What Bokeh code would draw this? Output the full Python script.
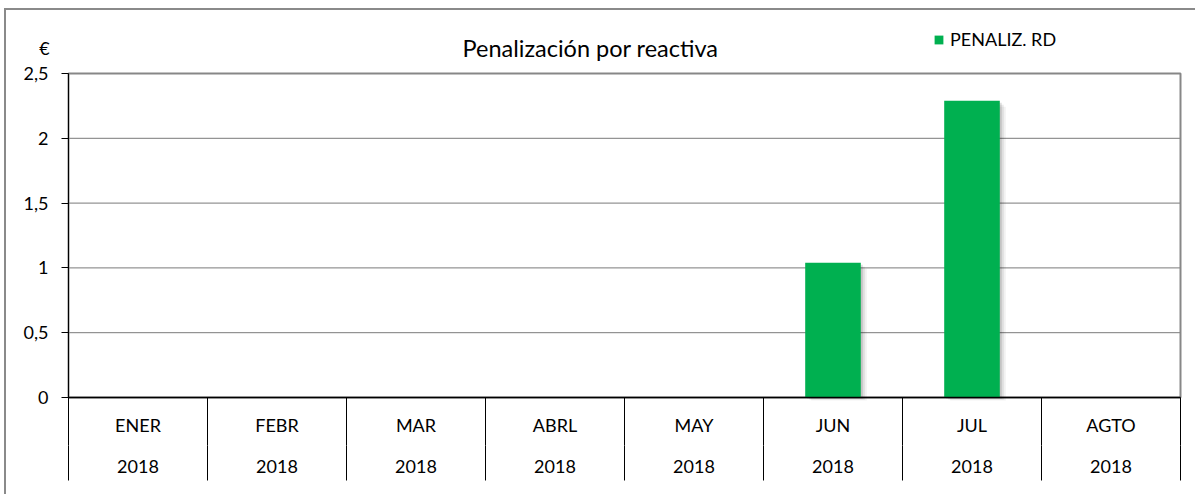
from bokeh.plotting import figure
from bokeh.models import (LinearAxis, FixedTicker, CustomJSTickFormatter, Range1d,
                          Legend, LegendItem, Label)
from bokeh.embed import file_html
from bokeh.resources import INLINE

# ---- data ----
months = ["ENER", "FEBR", "MAR", "ABRL", "MAY", "JUN", "JUL", "AGTO"]
years = ["2018"] * 8
penaliz_rd = [0, 0, 0, 0, 0, 1.04, 2.29, 0]
y_ticks = [0, 0.5, 1, 1.5, 2, 2.5]
series_name = "PENALIZ. RD"
title_text = "Penalización por reactiva"
unit_text = "€"

# ---- style / layout ----
FONT = "Lato"
LABEL_SIZE = "18px"
GREEN = "#00B050"
GRID = "#7a7a7a"
BORDER = "#878787"

n = len(months)
centers = [i + 0.5 for i in range(n)]
bounds = list(range(n + 1))

ORIGIN_X, ORIGIN_Y = 6, 10          # page position of canvas (after CSS border)
FIG_W, FIG_H = 1197 - ORIGIN_X, 496 - ORIGIN_Y
PLOT_L, PLOT_R, PLOT_T, PLOT_B = 68, 1180, 73, 397   # plot area on page
YEAR_ROW_TOP = 445
SEP_BOTTOM = 480
FRAME_R = 1186
FRAME_B = ORIGIN_Y + FIG_H
Y_MAX = y_ticks[-1]
SX = (PLOT_R - PLOT_L) / n
SY = (PLOT_B - PLOT_T) / Y_MAX


def dx(px):
    return (px - PLOT_L) / SX


def dy(py):
    return (PLOT_B - py) / SY


p = figure(width=FIG_W, height=FIG_H, output_backend="svg", toolbar_location=None,
           x_range=Range1d(dx(ORIGIN_X), dx(FRAME_R)),
           y_range=Range1d(dy(FRAME_B), dy(ORIGIN_Y)),
           min_border_left=0, min_border_right=ORIGIN_X + FIG_W - FRAME_R,
           min_border_top=0, min_border_bottom=0,
           x_axis_type=None, y_axis_type=None)
p.styles = {"margin-left": "4px", "margin-top": "8px",
            "border-left": "2px solid #8a8a8a", "border-top": "2px solid #8a8a8a"}
p.outline_line_color = None
p.background_fill_color = "white"
p.border_fill_color = "white"
p.xgrid.visible = False
p.ygrid.visible = False

# gridlines and plot-area border
grid_vals = [v for v in y_ticks if 0 < v < Y_MAX]
p.segment(x0=[0] * len(grid_vals), x1=[n] * len(grid_vals), y0=grid_vals, y1=grid_vals,
          line_color=GRID, line_width=1)
p.quad(left=[0], right=[n], bottom=[0], top=[Y_MAX], fill_color=None,
       line_color=BORDER, line_width=2)

# soft bar shadow (only behind non-empty bars)
sh_x = [c for c, v in zip(centers, penaliz_rd) if v > 0]
sh_v = [v for v in penaliz_rd if v > 0]
for off, alpha in [(6, 0.05), (4, 0.08), (2, 0.12)]:
    p.vbar(x=[c + off / SX for c in sh_x], top=[v - off / SY for v in sh_v],
           bottom=-off / (2 * SY), width=0.4, fill_color="black", fill_alpha=alpha,
           line_color=None)

# bars
r = p.vbar(x=centers, top=penaliz_rd, width=0.4, fill_color=GREEN, line_color=None)

# y axis (drawn at x=0 inside the frame)
yax = LinearAxis(ticker=FixedTicker(ticks=y_ticks), fixed_location=0, bounds=(0, Y_MAX),
                 formatter=CustomJSTickFormatter(code="return tick.toString().replace('.', ',')"))
yax.axis_line_color = "black"
yax.major_tick_out = 7
yax.major_tick_in = 0
yax.minor_tick_line_color = None
yax.major_label_standoff = 13
yax.major_label_text_font = FONT
yax.major_label_text_font_size = LABEL_SIZE
yax.major_label_text_color = "black"
p.add_layout(yax, "left")

# x axis: months (first level), drawn at y=0
xax1 = LinearAxis(ticker=FixedTicker(ticks=centers, minor_ticks=bounds), bounds=(0, n),
                  fixed_location=0,
                  formatter=CustomJSTickFormatter(args=dict(labels=months),
                                                  code="return labels[Math.floor(tick)]"))
xax1.axis_line_color = "black"
xax1.axis_line_width = 1.5
xax1.major_tick_line_color = None
xax1.major_tick_out = 0
xax1.major_tick_in = 0
xax1.minor_tick_line_color = "black"
xax1.minor_tick_out = YEAR_ROW_TOP - PLOT_B
xax1.minor_tick_in = 0
xax1.major_label_standoff = 16 - (YEAR_ROW_TOP - PLOT_B)
xax1.major_label_text_font = FONT
xax1.major_label_text_font_size = LABEL_SIZE
xax1.major_label_text_color = "black"
p.add_layout(xax1, "below")

# x axis: years (second level)
xax2 = LinearAxis(ticker=FixedTicker(ticks=centers, minor_ticks=bounds), bounds=(0, n),
                  fixed_location=dy(YEAR_ROW_TOP),
                  formatter=CustomJSTickFormatter(args=dict(labels=years),
                                                  code="return labels[Math.floor(tick)]"))
xax2.axis_line_color = None
xax2.major_tick_line_color = None
xax2.major_tick_out = 0
xax2.major_tick_in = 0
xax2.minor_tick_line_color = "black"
xax2.minor_tick_out = SEP_BOTTOM - YEAR_ROW_TOP
xax2.minor_tick_in = 0
xax2.major_label_standoff = 14 - (SEP_BOTTOM - YEAR_ROW_TOP)
xax2.major_label_text_font = FONT
xax2.major_label_text_font_size = LABEL_SIZE
xax2.major_label_text_color = "black"
p.add_layout(xax2, "below")

# title and unit
p.add_layout(Label(x=dx(590), y=dy(47), text=title_text, text_align="center",
                   text_baseline="middle", text_font=FONT, text_font_size="23.5px",
                   text_color="black"))
p.add_layout(Label(x=dx(44), y=dy(47), text=unit_text, text_align="center",
                   text_baseline="middle", text_font=FONT, text_font_size=LABEL_SIZE,
                   text_color="black"))

legend = Legend(items=[LegendItem(label=series_name, renderers=[r])],
                location=(933 - ORIGIN_X, FRAME_B - 50), orientation="horizontal",
                glyph_width=11, glyph_height=11, label_standoff=6, padding=0,
                spacing=0, margin=0, label_height=13,
                border_line_color=None, background_fill_alpha=0,
                label_text_font=FONT, label_text_font_size=LABEL_SIZE, label_text_color="black")
p.add_layout(legend, "center")

open("out.html", "w").write(file_html(p, INLINE))
